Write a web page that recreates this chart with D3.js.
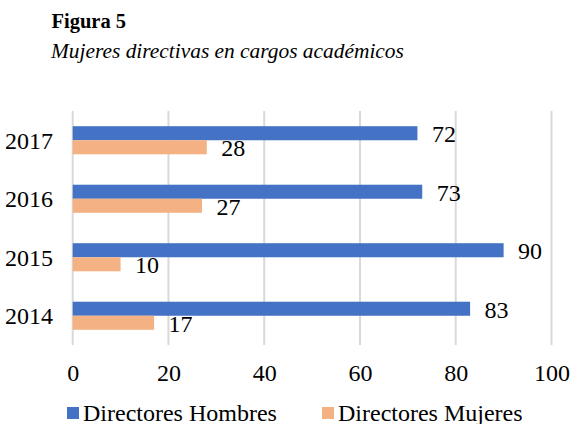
<!DOCTYPE html>
<html>
<head>
<meta charset="utf-8">
<script src="https://cdn.jsdelivr.net/npm/d3@7"></script>
<style>
  html, body { margin: 0; padding: 0; background: #fff; }
  svg text { font-family: "Liberation Serif", "Times New Roman", serif !important; }
</style>
</head>
<body>
<svg id="chart" width="571" height="424"></svg>
<script>
const years = ["2017", "2016", "2015", "2014"];
const hombres = [72, 73, 90, 83];
const mujeres = [28, 27, 10, 17];
const seriesNames = ["Directores Hombres", "Directores Mujeres"];
const seriesColors = ["#4472C4", "#F4B183"];
const xTicks = [0, 20, 40, 60, 80, 100];

const svg = d3.select("#chart");
const SERIF = "'Liberation Serif', 'Times New Roman', serif";

svg.append("text").attr("x", 51.5).attr("y", 27.5)
  .style("font-family", SERIF)
  .attr("font-weight", "bold").attr("font-size", 20.5).attr("fill", "#000")
  .text("Figura 5");
svg.append("text").attr("x", 51).attr("y", 58)
  .style("font-family", SERIF)
  .attr("font-style", "italic").attr("font-size", 21.4).attr("fill", "#000")
  .text("Mujeres directivas en cargos académicos");

const x = d3.scaleLinear().domain([0, 100]).range([72.7, 551.5]);
const y = d3.scaleBand().domain(years).range([111, 345]).paddingInner(0.52).paddingOuter(0.26);
const ySub = d3.scaleBand().domain(seriesNames).range([0, y.bandwidth()]);

// gridlines
svg.append("g").selectAll("line").data(xTicks).join("line")
  .attr("x1", d => x(d)).attr("x2", d => x(d))
  .attr("y1", 111).attr("y2", 345)
  .attr("stroke", "#d9d9d9").attr("stroke-width", 2);

// x axis labels
const xAxis = d3.axisBottom(x).tickValues(xTicks).tickSize(0).tickPadding(0);
const gx = svg.append("g").attr("transform", "translate(0,364)").call(xAxis)
  .attr("font-family", null);
gx.select(".domain").remove();
gx.selectAll("text").style("font-family", SERIF).attr("font-size", 24)
  .attr("fill", "#000").attr("dy", "0.71em");

// y axis labels
const yAxis = d3.axisLeft(y).tickSize(0).tickPadding(0);
const gy = svg.append("g").attr("transform", "translate(53,0)").call(yAxis)
  .attr("font-family", null);
gy.select(".domain").remove();
gy.selectAll("text").style("font-family", SERIF).attr("font-size", 24)
  .attr("fill", "#000").attr("dy", "0.36em");

const data = years.map((yr, i) => ({ year: yr, vals: [hombres[i], mujeres[i]] }));

const groups = svg.append("g").selectAll("g").data(data).join("g")
  .attr("transform", d => `translate(0,${y(d.year)})`);

groups.selectAll("rect").data(d => d.vals.map((v, j) => ({ v, s: seriesNames[j], c: seriesColors[j] })))
  .join("rect")
  .attr("x", x(0)).attr("y", d => ySub(d.s))
  .attr("width", d => x(d.v) - x(0)).attr("height", ySub.bandwidth())
  .attr("fill", d => d.c);

groups.selectAll("text.val").data(d => d.vals.map((v, j) => ({ v, s: seriesNames[j] })))
  .join("text").attr("class", "val")
  .style("font-family", SERIF)
  .attr("x", d => x(d.v) + 14.5)
  .attr("y", d => ySub(d.s) + ySub.bandwidth() / 2 + 9)
  .attr("font-size", 24).attr("fill", "#000")
  .text(d => d.v);

// legend
const legX = [67, 322];
const leg = svg.append("g").selectAll("g").data(seriesNames).join("g")
  .attr("transform", (d, i) => `translate(${legX[i]},407)`);
leg.append("rect").attr("width", 12).attr("height", 12).attr("fill", (d, i) => seriesColors[i]);
leg.append("text").attr("x", 16).attr("y", 13.5)
  .style("font-family", SERIF)
  .attr("font-size", 24).attr("fill", "#000").text(d => d);
</script>
</body>
</html>
